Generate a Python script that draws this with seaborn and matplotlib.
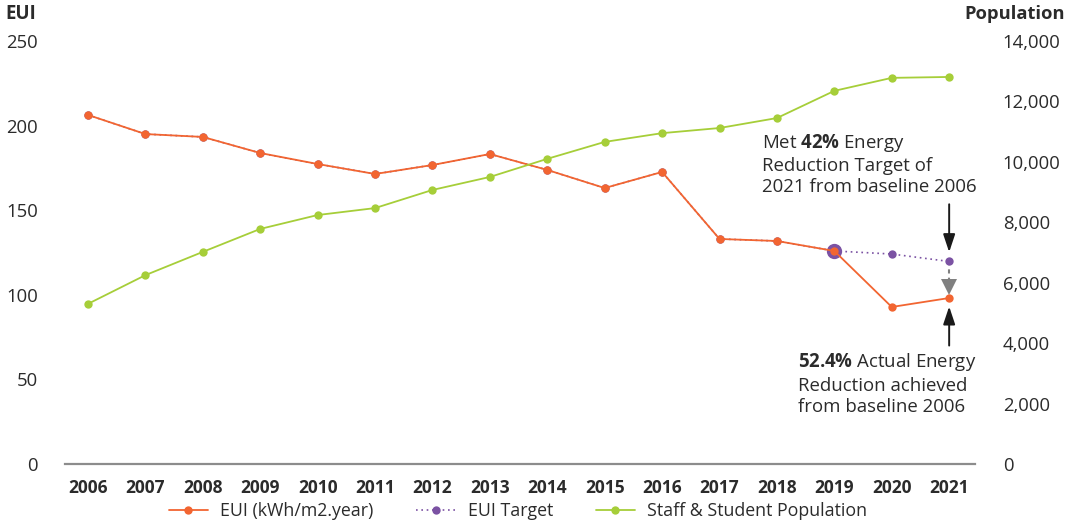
import matplotlib
matplotlib.use("Agg")
import matplotlib.pyplot as plt
from matplotlib.lines import Line2D
import seaborn as sns
import pandas as pd

# ---- data ----
years = [2006, 2007, 2008, 2009, 2010, 2011, 2012, 2013, 2014, 2015, 2016, 2017, 2018, 2019, 2020, 2021]
eui = [206.3, 195.0, 193.3, 183.8, 177.3, 171.4, 176.7, 183.2, 173.8, 163.1, 172.6, 133.0, 131.8, 125.9, 92.8, 98.1]
eui_target = [206.3, 195.0, 193.3, 183.8, 177.3, 171.4, 176.7, 183.2, 173.8, 163.1, 172.6, 133.0, 131.8, 125.9, 124.1, 119.7]
population = [5300, 6250, 7020, 7780, 8240, 8470, 9070, 9500, 10100, 10660, 10950, 11120, 11450, 12350, 12780, 12810]
target_marker_value = 104.5
left_ticks = [0, 50, 100, 150, 200, 250]
right_ticks = [0, 2000, 4000, 6000, 8000, 10000, 12000, 14000]
right_tick_labels = ["0", "2,000", "4,000", "6,000", "8,000", "10,000", "12,000", "14,000"]
legend_labels = ["EUI (kWh/m2.year)", "EUI Target", "Staff & Student Population"]

ORANGE = "#F26531"
PURPLE = "#7B52A3"
GREEN = "#A6CE39"
GREY = "#808080"
TXT = "#2b2b2b"

sns.set_theme(style="white")
plt.rcParams["font.family"] = ["Open Sans", "DejaVu Sans"]
plt.rcParams["mathtext.fontset"] = "custom"
plt.rcParams["mathtext.rm"] = "Open Sans"
plt.rcParams["mathtext.bf"] = "Open Sans:bold"

df = pd.DataFrame({"year": years, "eui": eui, "target": eui_target, "pop": population})

fig = plt.figure(figsize=(10.77, 5.26), dpi=100)
ax = fig.add_axes([65 / 1077, 1 - 464 / 526, (975 - 65) / 1077, (464 - 41) / 526])
ax2 = ax.twinx()

# target (beneath)
sns.lineplot(data=df, x="year", y="target", ax=ax, color=PURPLE, linestyle=(0, (1, 2.2)),
             linewidth=1.2, marker="o", markersize=6, markeredgewidth=0, zorder=2)
# big ring at 2019
ax.plot([years[13]], [eui_target[13]], marker="o", markersize=11, color=PURPLE,
        markeredgewidth=0, zorder=2.5, linestyle="none")
# actual EUI
sns.lineplot(data=df, x="year", y="eui", ax=ax, color=ORANGE, linewidth=1.3,
             marker="o", markersize=6, markeredgewidth=0, zorder=3)

# population
sns.lineplot(data=df, x="year", y="pop", ax=ax2, color=GREEN, linewidth=1.3,
             marker="o", markersize=6, markeredgewidth=0)

# grey dashed connector and triangle at 2021
ax.plot([years[-1], years[-1]], [eui_target[-1], target_marker_value], color=GREY,
        linestyle=(0, (2, 2)), linewidth=1.5, zorder=1.5)
ax.plot([years[-1]], [target_marker_value], marker="v", markersize=11, color=GREY,
        markeredgewidth=0, zorder=1.6, linestyle="none")

# arrows
ax.annotate("", xy=(years[-1], eui_target[-1] + 5.5), xytext=(years[-1], 153.5),
            arrowprops=dict(arrowstyle="-|>,head_length=0.9,head_width=0.3", color="#1a1a1a", lw=1.4,
                            shrinkA=0, shrinkB=0), zorder=5)
ax.annotate("", xy=(years[-1], eui[-1] - 5), xytext=(years[-1], 70),
            arrowprops=dict(arrowstyle="-|>,head_length=0.9,head_width=0.3", color="#1a1a1a", lw=1.4,
                            shrinkA=0, shrinkB=0), zorder=5)

ax.text(2017.74, 196.5, "Met $\\mathbf{42\\%}$ Energy\nReduction Target of\n2021 from baseline 2006",
        ha="left", va="top", fontsize=13.4, color=TXT, linespacing=1.22)
ax.text(2018.37, 66.5, "$\\mathbf{52.4\\%}$ Actual Energy\nReduction achieved\nfrom baseline 2006",
        ha="left", va="top", fontsize=13.4, color=TXT, linespacing=1.22)

# axes styling
ax.set_xlim(2005.6, 2021.45)
ax.set_ylim(0, 250)
ax2.set_ylim(0, 14000)
ax.set_xticks(years)
ax.set_xticklabels([str(y) for y in years], fontweight="bold", fontsize=12.5, color=TXT)
ax.set_yticks(left_ticks)
ax.set_yticklabels([str(t) for t in left_ticks], fontsize=13.3, color=TXT)
ax2.set_yticks(right_ticks)
ax2.set_yticklabels(right_tick_labels, fontsize=13.3, color=TXT)
ax.tick_params(axis="x", length=0, pad=11)
ax.tick_params(axis="y", length=0, pad=19.5)
ax2.tick_params(axis="y", length=0, pad=20)
ax.set_xlabel("")
ax.set_ylabel("")
ax2.set_ylabel("")
for a in (ax, ax2):
    for s in ["top", "left", "right", "bottom"]:
        a.spines[s].set_visible(False)
    a.grid(False)
ax.spines["bottom"].set_visible(True)
ax.spines["bottom"].set_color("#8c8c8c")
ax.spines["bottom"].set_linewidth(1.6)

fig.text(5 / 1077, 1 - 14 / 526, "EUI", ha="left", va="center", fontsize=13.5,
         fontweight="bold", color=TXT)
fig.text(1065 / 1077, 1 - 14 / 526, "Population", ha="right", va="center", fontsize=13.2,
         fontweight="bold", color=TXT)

handles = [
    Line2D([], [], color=ORANGE, lw=1.3, marker="o", markersize=6, markeredgewidth=0),
    Line2D([], [], color=PURPLE, lw=1.2, linestyle=(0, (1, 2.2)), marker="o", markersize=6, markeredgewidth=0),
    Line2D([], [], color=GREEN, lw=1.3, marker="o", markersize=6, markeredgewidth=0),
]
fig.legend(handles, legend_labels, loc="center", bbox_to_anchor=(518 / 1077, 1 - 511 / 526),
           ncol=3, frameon=False, fontsize=12.8, handlelength=2.2, handletextpad=0.7,
           columnspacing=2.4, labelcolor=TXT)

fig.savefig("out.png", dpi=100)
